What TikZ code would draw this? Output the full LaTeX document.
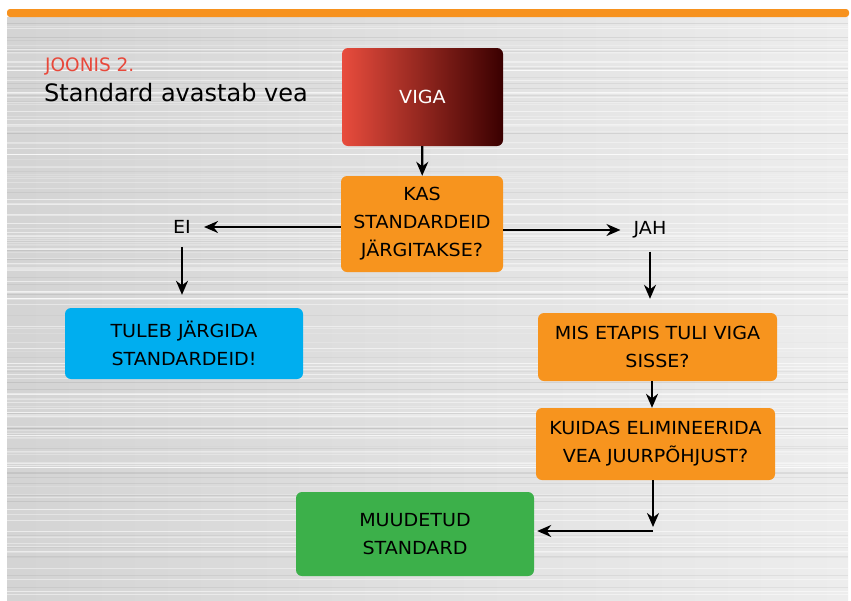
\documentclass[tikz,border=0pt]{standalone}
\usepackage{fontspec}
\setmainfont{DejaVu Sans}
\newfontfamily\boxfont[FakeStretch=1.06]{DejaVu Sans}
\usetikzlibrary{arrows.meta}
\definecolor{barorange}{RGB}{247,146,30}
\definecolor{boxorange}{RGB}{247,148,30}
\definecolor{boxcyan}{RGB}{0,174,239}
\definecolor{boxgreen}{RGB}{60,176,74}
\definecolor{titlered}{RGB}{232,72,58}
\definecolor{vigaleft}{RGB}{232,76,61}
\definecolor{vigamid}{RGB}{122,8,0}
\definecolor{vigaright}{RGB}{58,0,0}

\begin{document}
\begin{tikzpicture}[x=1pt,y=-1pt]
\tikzstyle{every node}=[font=\boxfont\fontsize{18}{28}\selectfont]
\tikzstyle{box}=[rounded corners=6pt,align=center,inner sep=0pt]
\tikzstyle{answer}=[inner sep=13pt]
\tikzstyle{arr}=[line width=2.2pt,-{Stealth[length=14pt,width=12pt]}]

\useasboundingbox (0,0) rectangle (851,600);
\fill[white] (0,0) rectangle (851,600);
\shade[left color=gray!34,right color=gray!14] (7,17) rectangle (848,600);
\pgfmathsetseed{5}
\foreach \i in {1,...,140}{
\pgfmathsetmacro{\yy}{20+rnd*578}
\pgfmathsetmacro{\op}{0.15+0.45*rnd}
\draw[white,opacity=\op,line width=0.8pt] (7,\yy) -- (848,\yy);
}
\foreach \i in {1,...,50}{
\pgfmathsetmacro{\yy}{20+rnd*578}
\pgfmathsetmacro{\op}{0.03+0.05*rnd}
\draw[black,opacity=\op,line width=0.7pt] (7,\yy) -- (848,\yy);
}
\fill[barorange,rounded corners=3pt] (7,17) -- (7,9) -- (849,9) -- (849,17) -- cycle;

\node[anchor=base west,inner sep=0pt,text=titlered,font=\fontsize{18.5}{20}\selectfont] (joonis) at (45,71) {JOONIS 2.};
\node[anchor=base west,inner sep=0pt,font=\fontsize{24}{26}\selectfont] (pealkiri) at (44,101) {Standard avastab vea};

\node[box,left color=vigaleft,middle color=vigamid,right color=vigaright,text=white,minimum width=161pt,minimum height=98pt] (viga) at (422.5,97) {VIGA};
\node[box,fill=boxorange,minimum width=162pt,minimum height=96pt] (kas) at (422,224) {KAS\\STANDARDEID\\JÄRGITAKSE?};
\node[answer] (ei) at (182,227) {EI};
\node[answer] (jah) at (650,230) {JAH};
\node[box,fill=boxcyan,minimum width=238pt,minimum height=71pt] (tuleb) at (184,343.5) {TULEB JÄRGIDA\\STANDARDEID!};
\node[box,fill=boxorange,minimum width=239pt,minimum height=68pt] (mis) at (657.5,347) {MIS ETAPIS TULI VIGA\\SISSE?};
\node[box,fill=boxorange,minimum width=239pt,minimum height=72pt] (kuidas) at (655.5,444) {KUIDAS ELIMINEERIDA\\VEA JUURPÕHJUST?};
\node[box,fill=boxgreen,minimum width=238pt,minimum height=84pt] (muudetud) at (415,534) {MUUDETUD\\STANDARD};
\coordinate (nurk) at (653,531);

\draw[arr] (viga) -- (kas);
\draw[arr] (kas.west |- ei) -- (ei);
\draw[arr] (ei) -- (ei |- tuleb.north) [shorten >=13pt];
\draw[arr] (kas.east |- jah) -- (jah);
\draw[arr] (jah) -- (jah |- mis.north) [shorten >=14pt];
\draw[arr] (mis.south -| 652,0) -- (kuidas.north -| 652,0);
\draw[arr,shorten >=4pt] (kuidas.south -| nurk) -- (nurk);
\draw[arr,shorten >=3pt] (nurk) -- (muudetud.east |- nurk);
\end{tikzpicture}
\end{document}
